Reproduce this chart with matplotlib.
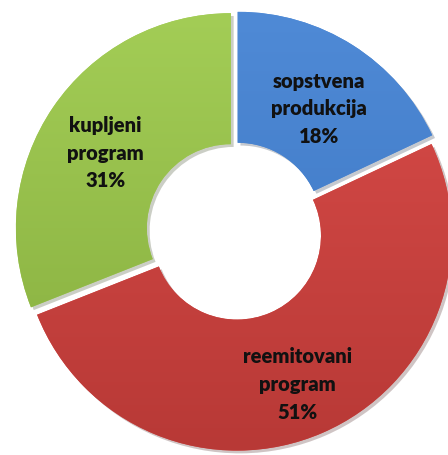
import numpy as np
import matplotlib
matplotlib.use('Agg')
import matplotlib.pyplot as plt
import matplotlib.patheffects as pe
from matplotlib.colors import LinearSegmentedColormap

# chart data
labels = ['sopstvena\nprodukcija', 'reemitovani\nprogram', 'kupljeni\nprogram']
values = [18, 51, 31]
colors_light = ['#4f8ad6', '#d94c49', '#a3cd56']
colors_dark = ['#3a74c0', '#b83936', '#86ad3e']

def main():
	fig = plt.figure(figsize=(4.48, 4.56), dpi=100)
	ax = fig.add_axes([0, 0, 1, 1])

	R = 215      # outer radius (in pixels, 1 data unit = 1 px)
	W = 131      # ring width

	wedges, _ = ax.pie(values, radius=R, startangle=90, counterclock=False,
		explode=[5] * len(values), colors=colors_light,
		wedgeprops=dict(width=W, edgecolor='none', linewidth=0))

	for w, c1, c2, lab, v in zip(wedges, colors_light, colors_dark, labels, values):
		w.set_path_effects([pe.SimplePatchShadow(offset=(2, -2), alpha=0.25), pe.Normal()])
		cx, cy = w.center
		cmap = LinearSegmentedColormap.from_list('g', [c2, c1])
		grad = np.linspace(0, 1, 256).reshape(-1, 1)
		im = ax.imshow(grad, cmap=cmap, origin='lower', aspect='auto',
			extent=[cx - R, cx + R, cy - R, cy + R], zorder=w.get_zorder() + 0.1)
		im.set_clip_path(w)
		# label in the middle of the ring
		mid = np.deg2rad((w.theta1 + w.theta2) / 2)
		rr = R - W / 2 + 2
		pct = 100.0 * v / sum(values)
		ax.text(cx + rr * np.cos(mid), cy + rr * np.sin(mid) - 9, '%s\n%d%%' % (lab, round(pct)),
			ha='center', va='center', fontsize=14.5, fontweight='heavy', family='Lato',
			color='#111111', linespacing=1.55, zorder=5)

	ax.set_xlim(-235, 213)
	ax.set_ylim(-224, 232)
	ax.set_aspect('equal')
	ax.axis('off')
	fig.savefig('out.png', dpi=100)

if __name__ == '__main__':
	main()
